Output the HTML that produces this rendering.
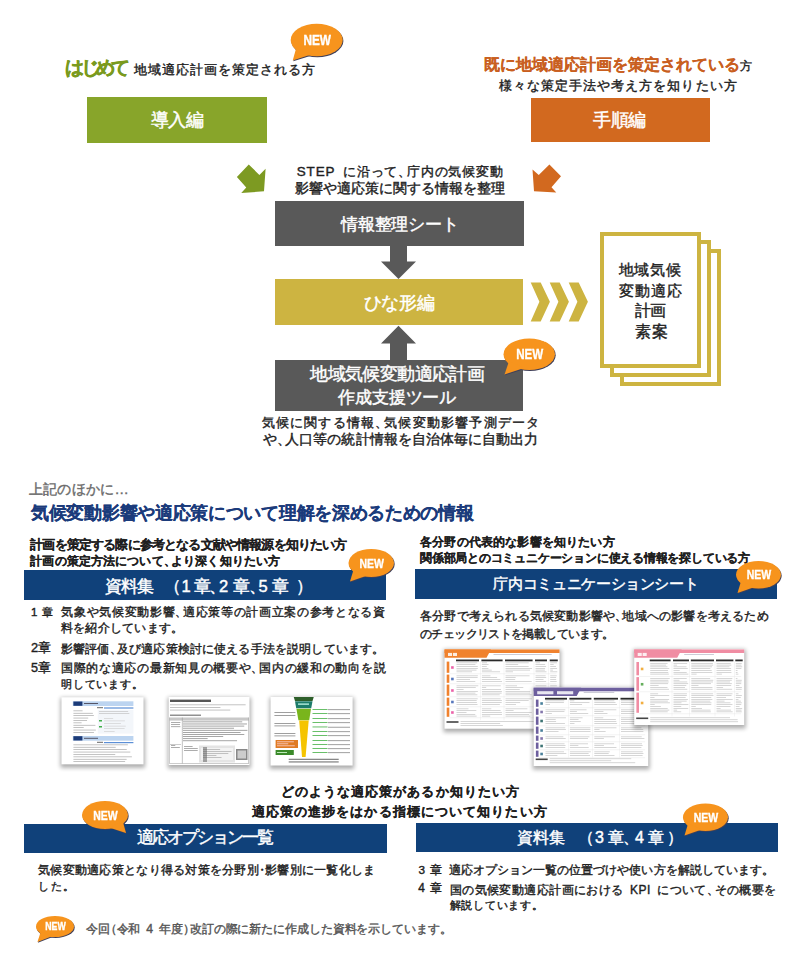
<!DOCTYPE html>
<html><head><meta charset="utf-8"><style>
html,body{margin:0;padding:0;background:#fff;width:800px;height:960px;overflow:hidden}
body{position:relative;font-family:"Liberation Sans",sans-serif}
.t{position:absolute;white-space:nowrap}
.g{position:absolute;white-space:nowrap}
.c{margin-right:-0.4em}
.lt{font-size:1.15em;letter-spacing:0.3px}
.nk{margin:0 -0.25em}
.ol{margin-left:-0.4em}
.cr{margin-right:-0.4em}
.box{position:absolute}
svg{position:absolute;left:0;top:0}
</style></head><body>
<div class="box" style="left:87px;top:97px;width:180px;height:45.5px;background:#88a52a;"></div><div class="box" style="left:531px;top:97.5px;width:179px;height:44.5px;background:#d2691f;"></div><div class="box" style="left:274.5px;top:201px;width:249px;height:45px;background:#595959;"></div><div class="box" style="left:275px;top:279px;width:248px;height:45.6px;background:#cdb441;"></div><div class="box" style="left:275px;top:360px;width:248px;height:50.5px;background:#595959;"></div><div class="box" style="left:23.6px;top:570px;width:362px;height:29.8px;background:#10417a;"></div><div class="box" style="left:414.5px;top:569px;width:362px;height:29.5px;background:#10417a;"></div><div class="box" style="left:23.7px;top:823.5px;width:363.3px;height:29px;background:#10417a;"></div><div class="box" style="left:415.6px;top:823px;width:362.4px;height:28.5px;background:#10417a;"></div><div class="box" style="left:620px;top:249px;width:92.5px;height:128.5px;border:4px solid #cdb441;background:#fff"></div><div class="box" style="left:610px;top:240.2px;width:92.5px;height:128.5px;border:4px solid #cdb441;background:#fff"></div><div class="box" style="left:600.3px;top:231.6px;width:92.5px;height:128.5px;border:4px solid #cdb441;background:#fff"></div><div class="t" id="t0" style="left:65.30px;top:58.85px;font-size:18.8px;line-height:18.8px;color:#7a9a1e;letter-spacing:-3.600px;font-weight:bold;-webkit-text-stroke:0.45px #7a9a1e;">はじめて</div><div class="t" id="t1" style="left:133.70px;top:62.83px;font-size:13.35px;line-height:13.35px;color:#1e1e1e;letter-spacing:1.000px;-webkit-text-stroke:0.4px #1e1e1e;">地域適応計画を策定される方</div><div class="t" id="t2" style="left:483.70px;top:56.78px;font-size:15.94px;line-height:15.94px;color:#c95f1f;letter-spacing:0.000px;font-weight:bold;-webkit-text-stroke:0.15px #c95f1f;">既に地域適応計画を策定されている</div><div class="t" id="t3" style="left:739.50px;top:60.40px;font-size:12.2px;line-height:12.2px;color:#1e1e1e;letter-spacing:0.000px;-webkit-text-stroke:0.4px #1e1e1e;">方</div><div class="t" id="t4" style="left:498.70px;top:79.08px;font-size:13.03px;line-height:13.03px;color:#1e1e1e;letter-spacing:1.062px;-webkit-text-stroke:0.4px #1e1e1e;">様々な策定手法や考え方を知りたい方</div><div class="t" id="t5" style="left:150.95px;top:111.54px;font-size:17.73px;line-height:17.73px;color:#fff;letter-spacing:-0.675px;-webkit-text-stroke:0.44000000000000006px #fff;">導入編</div><div class="t" id="t6" style="left:593.40px;top:111.52px;font-size:17.96px;line-height:17.96px;color:#fff;letter-spacing:-0.550px;-webkit-text-stroke:0.44000000000000006px #fff;">手順編</div><div class="t" id="t7" style="left:296.80px;top:164.78px;font-size:13.44px;line-height:13.44px;color:#1e1e1e;letter-spacing:0.858px;-webkit-text-stroke:0.4px #1e1e1e;"><span class="lt">STEP</span> に沿って<span class="c">、</span>庁内の気候変動</div><div class="t" id="t8" style="left:294.95px;top:182.30px;font-size:13.9px;line-height:13.9px;color:#1e1e1e;letter-spacing:0.019px;-webkit-text-stroke:0.4px #1e1e1e;">影響や適応策に関する情報を整理</div><div class="t" id="t9" style="left:341.20px;top:216.05px;font-size:17.4px;line-height:17.4px;color:#fff;letter-spacing:-0.251px;-webkit-text-stroke:0.44000000000000006px #fff;">情報整理シート</div><div class="t" id="t10" style="left:363.70px;top:294.55px;font-size:17.51px;line-height:17.51px;color:#fff;letter-spacing:-0.333px;-webkit-text-stroke:0.44000000000000006px #fff;">ひな形編</div><div class="t" id="t11" style="left:310.30px;top:365.38px;font-size:18.35px;line-height:18.35px;color:#fff;letter-spacing:-0.600px;-webkit-text-stroke:0.44000000000000006px #fff;">地域気候変動適応計画</div><div class="t" id="t12" style="left:338.45px;top:389.74px;font-size:16.52px;line-height:16.52px;color:#fff;letter-spacing:-0.208px;-webkit-text-stroke:0.44000000000000006px #fff;">作成支援ツール</div><div class="t" id="t13" style="left:261.70px;top:415.80px;font-size:13.4px;line-height:13.4px;color:#1e1e1e;letter-spacing:1.203px;-webkit-text-stroke:0.4px #1e1e1e;">気候に関する情報<span class="c">、</span>気候変動影響予測データ</div><div class="t" id="t14" style="left:262.70px;top:433.03px;font-size:13.94px;line-height:13.94px;color:#1e1e1e;letter-spacing:0.056px;-webkit-text-stroke:0.4px #1e1e1e;">や<span class="c">、</span>人口等の統計情報を自治体毎に自動出力</div><div class="t" id="t15" style="left:618.70px;top:261.56px;font-size:15.18px;line-height:15.18px;color:#1e1e1e;letter-spacing:0.800px;-webkit-text-stroke:0.4px #1e1e1e;">地域気候</div><div class="t" id="t16" style="left:618.70px;top:282.59px;font-size:15.43px;line-height:15.43px;color:#1e1e1e;letter-spacing:1.133px;-webkit-text-stroke:0.4px #1e1e1e;">変動適応</div><div class="t" id="t17" style="left:634.70px;top:303.19px;font-size:15.53px;line-height:15.53px;color:#1e1e1e;letter-spacing:-0.300px;-webkit-text-stroke:0.4px #1e1e1e;">計画</div><div class="t" id="t18" style="left:634.70px;top:323.68px;font-size:15.64px;line-height:15.64px;color:#1e1e1e;letter-spacing:1.400px;-webkit-text-stroke:0.4px #1e1e1e;">素案</div><div class="t" id="t19" style="left:28.70px;top:481.70px;font-size:14.31px;line-height:14.31px;color:#6b6b6b;letter-spacing:0.284px;-webkit-text-stroke:0.4px #6b6b6b;">上記のほかに…</div><div class="t" id="t20" style="left:31.10px;top:504.77px;font-size:17.95px;line-height:17.95px;color:#1b3b7b;letter-spacing:-0.300px;font-weight:bold;-webkit-text-stroke:0.15px #1b3b7b;">気候変動影響や適応策について理解を深めるための情報</div><div class="t" id="t21" style="left:30.30px;top:538.62px;font-size:12.6px;line-height:12.6px;color:#1e1e1e;letter-spacing:-0.832px;font-weight:bold;-webkit-text-stroke:0.15px #1e1e1e;">計画を策定する際に参考となる文献や情報源を知りたい方</div><div class="t" id="t22" style="left:30.30px;top:554.77px;font-size:12.21px;line-height:12.21px;color:#1e1e1e;letter-spacing:0.129px;font-weight:bold;-webkit-text-stroke:0.15px #1e1e1e;">計画の策定方法について<span class="c">、</span>より深く知りたい方</div><div class="t" id="t23" style="left:420.00px;top:536.11px;font-size:11.69px;line-height:11.69px;color:#1e1e1e;letter-spacing:0.173px;font-weight:bold;-webkit-text-stroke:0.15px #1e1e1e;">各分野の代表的な影響を知りたい方</div><div class="t" id="t24" style="left:420.00px;top:552.18px;font-size:12.13px;line-height:12.13px;color:#1e1e1e;letter-spacing:-0.218px;font-weight:bold;-webkit-text-stroke:0.15px #1e1e1e;">関係部局とのコミュニケーションに使える情報を探している方</div><div class="t" id="t25" style="left:493.45px;top:576.35px;font-size:15.31px;line-height:15.31px;color:#fff;letter-spacing:-0.365px;-webkit-text-stroke:0.44000000000000006px #fff;">庁内コミュニケーションシート</div><div class="t" id="t26" style="left:30.95px;top:606.86px;font-size:11.48px;line-height:11.48px;color:#1e1e1e;letter-spacing:-0.438px;-webkit-text-stroke:0.4px #1e1e1e;">1 章</div><div class="t" id="t27" style="left:61.20px;top:606.42px;font-size:12.16px;line-height:12.16px;color:#1e1e1e;letter-spacing:0.670px;-webkit-text-stroke:0.4px #1e1e1e;">気象や気候変動影響<span class="c">、</span>適応策等の計画立案の参考となる資</div><div class="t" id="t28" style="left:60.95px;top:622.71px;font-size:11.84px;line-height:11.84px;color:#1e1e1e;letter-spacing:0.250px;-webkit-text-stroke:0.4px #1e1e1e;">料を紹介しています。</div><div class="t" id="t29" style="left:30.95px;top:642.19px;font-size:12.87px;line-height:12.87px;color:#1e1e1e;letter-spacing:-0.156px;-webkit-text-stroke:0.4px #1e1e1e;">2章</div><div class="t" id="t30" style="left:60.95px;top:642.61px;font-size:12.03px;line-height:12.03px;color:#1e1e1e;letter-spacing:0.156px;-webkit-text-stroke:0.4px #1e1e1e;">影響評価<span class="c">、</span>及び適応策検討に使える手法を説明しています。</div><div class="t" id="t31" style="left:30.95px;top:662.18px;font-size:12.63px;line-height:12.63px;color:#1e1e1e;letter-spacing:-0.031px;-webkit-text-stroke:0.4px #1e1e1e;">5章</div><div class="t" id="t32" style="left:60.95px;top:662.42px;font-size:12.16px;line-height:12.16px;color:#1e1e1e;letter-spacing:0.700px;-webkit-text-stroke:0.4px #1e1e1e;">国際的な適応の最新知見の概要や<span class="c">、</span>国内の緩和の動向を説</div><div class="t" id="t33" style="left:60.95px;top:679.15px;font-size:11.2px;line-height:11.2px;color:#1e1e1e;letter-spacing:0.833px;-webkit-text-stroke:0.4px #1e1e1e;">明しています。</div><div class="t" id="t34" style="left:420.00px;top:610.24px;font-size:12.43px;line-height:12.43px;color:#1e1e1e;letter-spacing:0.198px;-webkit-text-stroke:0.4px #1e1e1e;">各分野で考えられる気候変動影響や<span class="c">、</span>地域への影響を考えるため</div><div class="t" id="t35" style="left:420.00px;top:627.51px;font-size:11.67px;line-height:11.67px;color:#1e1e1e;letter-spacing:-0.618px;-webkit-text-stroke:0.4px #1e1e1e;">のチェックリストを掲載しています。</div><div class="t" id="t36" style="left:280.50px;top:784.82px;font-size:13.36px;line-height:13.36px;color:#1e1e1e;letter-spacing:1.099px;font-weight:bold;-webkit-text-stroke:0.15px #1e1e1e;">どのような適応策があるか知りたい方</div><div class="t" id="t37" style="left:251.70px;top:804.79px;font-size:13.42px;line-height:13.42px;color:#1e1e1e;letter-spacing:1.100px;font-weight:bold;-webkit-text-stroke:0.15px #1e1e1e;">適応策の進捗をはかる指標について知りたい方</div><div class="t" id="t38" style="left:137.40px;top:829.59px;font-size:16.83px;line-height:16.83px;color:#fff;letter-spacing:-2.011px;-webkit-text-stroke:0.44000000000000006px #fff;">適応オプション一覧</div><div class="t" id="t39" style="left:38.20px;top:864.54px;font-size:11.92px;line-height:11.92px;color:#1e1e1e;letter-spacing:0.257px;-webkit-text-stroke:0.4px #1e1e1e;">気候変動適応策となり得る対策を分野別<span class="nk">・</span>影響別に一覧化しま</div><div class="t" id="t40" style="left:38.20px;top:881.34px;font-size:10.72px;line-height:10.72px;color:#1e1e1e;letter-spacing:1.500px;-webkit-text-stroke:0.4px #1e1e1e;">した。</div><div class="t" id="t41" style="left:418.50px;top:863.86px;font-size:11.78px;line-height:11.78px;color:#1e1e1e;letter-spacing:-0.669px;-webkit-text-stroke:0.4px #1e1e1e;">3 章</div><div class="t" id="t42" style="left:449.20px;top:863.65px;font-size:11.7px;line-height:11.7px;color:#1e1e1e;letter-spacing:0.019px;-webkit-text-stroke:0.4px #1e1e1e;">適応オプション一覧の位置づけや使い方を解説しています。</div><div class="t" id="t43" style="left:418.20px;top:883.33px;font-size:11.85px;line-height:11.85px;color:#1e1e1e;letter-spacing:-0.258px;-webkit-text-stroke:0.4px #1e1e1e;">4 章</div><div class="t" id="t44" style="left:449.70px;top:883.75px;font-size:12.0px;line-height:12.0px;color:#1e1e1e;letter-spacing:0.427px;-webkit-text-stroke:0.4px #1e1e1e;">国の気候変動適応計画における <span class="lt">KPI</span> について<span class="c">、</span>その概要を</div><div class="t" id="t45" style="left:449.70px;top:899.86px;font-size:11.28px;line-height:11.28px;color:#1e1e1e;letter-spacing:0.714px;-webkit-text-stroke:0.4px #1e1e1e;">解説しています。</div><div class="t" id="t46" style="left:85.70px;top:923.38px;font-size:12.23px;line-height:12.23px;color:#555;letter-spacing:-0.101px;-webkit-text-stroke:0.4px #555;">今回<span class="ol">（</span>令和 4 年度<span class="cr">）</span>改訂の際に新たに作成した資料を示しています。</div><div class="g" style="left:104.90px;top:577.75px;font-size:16.5px;line-height:16.5px;color:#fff;-webkit-text-stroke:0.44000000000000006px #fff">資</div><div class="g" style="left:121.00px;top:577.75px;font-size:16.5px;line-height:16.5px;color:#fff;-webkit-text-stroke:0.44000000000000006px #fff">料</div><div class="g" style="left:137.40px;top:577.75px;font-size:16.5px;line-height:16.5px;color:#fff;-webkit-text-stroke:0.44000000000000006px #fff">集</div><div class="g" style="left:164.40px;top:577.75px;font-size:16.5px;line-height:16.5px;color:#fff;-webkit-text-stroke:0.44000000000000006px #fff">（</div><div class="g" style="left:181.60px;top:577.75px;font-size:16.5px;line-height:16.5px;color:#fff;-webkit-text-stroke:0.44000000000000006px #fff">1</div><div class="g" style="left:193.75px;top:577.75px;font-size:16.5px;line-height:16.5px;color:#fff;-webkit-text-stroke:0.44000000000000006px #fff">章</div><div class="g" style="left:209.35px;top:577.75px;font-size:16.5px;line-height:16.5px;color:#fff;-webkit-text-stroke:0.44000000000000006px #fff">、</div><div class="g" style="left:219.00px;top:577.75px;font-size:16.5px;line-height:16.5px;color:#fff;-webkit-text-stroke:0.44000000000000006px #fff">2</div><div class="g" style="left:233.10px;top:577.75px;font-size:16.5px;line-height:16.5px;color:#fff;-webkit-text-stroke:0.44000000000000006px #fff">章</div><div class="g" style="left:248.75px;top:577.75px;font-size:16.5px;line-height:16.5px;color:#fff;-webkit-text-stroke:0.44000000000000006px #fff">、</div><div class="g" style="left:258.40px;top:577.75px;font-size:16.5px;line-height:16.5px;color:#fff;-webkit-text-stroke:0.44000000000000006px #fff">5</div><div class="g" style="left:272.45px;top:577.75px;font-size:16.5px;line-height:16.5px;color:#fff;-webkit-text-stroke:0.44000000000000006px #fff">章</div><div class="g" style="left:295.65px;top:577.75px;font-size:16.5px;line-height:16.5px;color:#fff;-webkit-text-stroke:0.44000000000000006px #fff">）</div><div class="g" style="left:517.20px;top:830.42px;font-size:16px;line-height:16px;color:#fff;-webkit-text-stroke:0.44000000000000006px #fff">資</div><div class="g" style="left:533.42px;top:830.42px;font-size:16px;line-height:16px;color:#fff;-webkit-text-stroke:0.44000000000000006px #fff">料</div><div class="g" style="left:549.20px;top:830.42px;font-size:16px;line-height:16px;color:#fff;-webkit-text-stroke:0.44000000000000006px #fff">集</div><div class="g" style="left:578.42px;top:830.42px;font-size:16px;line-height:16px;color:#fff;-webkit-text-stroke:0.44000000000000006px #fff">（</div><div class="g" style="left:595.00px;top:830.42px;font-size:16px;line-height:16px;color:#fff;-webkit-text-stroke:0.44000000000000006px #fff">3</div><div class="g" style="left:607.75px;top:830.42px;font-size:16px;line-height:16px;color:#fff;-webkit-text-stroke:0.44000000000000006px #fff">章</div><div class="g" style="left:622.92px;top:830.42px;font-size:16px;line-height:16px;color:#fff;-webkit-text-stroke:0.44000000000000006px #fff">、</div><div class="g" style="left:634.90px;top:830.42px;font-size:16px;line-height:16px;color:#fff;-webkit-text-stroke:0.44000000000000006px #fff">4</div><div class="g" style="left:647.70px;top:830.42px;font-size:16px;line-height:16px;color:#fff;-webkit-text-stroke:0.44000000000000006px #fff">章</div><div class="g" style="left:667.45px;top:830.42px;font-size:16px;line-height:16px;color:#fff;-webkit-text-stroke:0.44000000000000006px #fff">）</div>
<svg width="800" height="960" viewBox="0 0 800 960" style="font-family:'Liberation Sans',sans-serif"><polygon points="390,246 407,246 407,261.6 416,261.6 398.5,279 381,261.6 390,261.6" fill="#595959"/><polygon points="398.5,325.7 416,343.5 407,343.5 407,360 390,360 390,343.5 381,343.5" fill="#595959"/><polygon points="248.75,164.4 236.9,176.9 246.25,187.5 241.25,193.1 264,191.25 265.6,168.75 259.4,175" fill="#7d9a22"/><polygon points="549.4,164.4 561,176.25 551.5,187.25 556.25,192.5 534,191.25 532.5,169.4 538.75,175" fill="#d2691f"/><polygon points="530.7,282.4 540.7,282.4 549.9000000000001,301.7 540.7,321.4 530.7,321.4 539.4000000000001,301.7" fill="#cdb441"/><polygon points="549.7,282.4 559.7,282.4 568.9000000000001,301.7 559.7,321.4 549.7,321.4 558.4000000000001,301.7" fill="#cdb441"/><polygon points="568.7,282.4 578.7,282.4 587.9000000000001,301.7 578.7,321.4 568.7,321.4 577.4000000000001,301.7" fill="#cdb441"/><defs><filter id="blur2" x="-20%" y="-20%" width="140%" height="140%"><feGaussianBlur stdDeviation="2.2"/></filter><filter id="soft"><feGaussianBlur stdDeviation="0.25"/></filter></defs><g filter="url(#soft)"><rect x="60.5" y="697.8" width="84.5" height="70" fill="#000" opacity="0.32" filter="url(#blur2)"/><rect x="61.50" y="697.30" width="82.00" height="67.00" fill="#fff"/><rect x="72.80" y="701.30" width="60.60" height="4.70" fill="#bcd4f0"/><rect x="73.40" y="701.50" width="9.00" height="4.30" fill="#1c3a78"/><rect x="84.00" y="703.00" width="14.00" height="1.00" fill="#556"/><rect x="104.00" y="707.40" width="29.40" height="1.20" fill="#5b8fd6"/><rect x="97.00" y="707.20" width="6.00" height="1.00" fill="#666"/><rect x="73.40" y="710.50" width="9.17" height="0.70" fill="#aaa"/><rect x="73.40" y="712.90" width="19.46" height="0.70" fill="#aaa"/><rect x="73.40" y="715.30" width="20.45" height="0.70" fill="#aaa"/><rect x="73.40" y="717.70" width="14.81" height="0.70" fill="#aaa"/><rect x="73.40" y="720.10" width="13.64" height="0.70" fill="#aaa"/><rect x="73.40" y="722.50" width="8.22" height="0.70" fill="#aaa"/><rect x="73.40" y="724.90" width="22.01" height="0.70" fill="#aaa"/><rect x="73.40" y="727.30" width="10.31" height="0.70" fill="#aaa"/><rect x="73.40" y="729.70" width="22.42" height="0.70" fill="#aaa"/><rect x="73.40" y="732.10" width="20.55" height="0.70" fill="#aaa"/><rect x="97.80" y="710.00" width="35.60" height="23.60" fill="#f3f6fa"/><rect x="99.00" y="711.00" width="29.14" height="0.60" fill="#bbb"/><rect x="99.00" y="713.20" width="30.38" height="0.60" fill="#bbb"/><rect x="99.00" y="720.00" width="3.00" height="1.50" fill="#3fae49"/><rect x="99.00" y="726.00" width="3.00" height="1.50" fill="#3fae49"/><rect x="104.00" y="718.00" width="9.18" height="0.60" fill="#ccc"/><rect x="104.00" y="720.60" width="20.91" height="0.60" fill="#ccc"/><rect x="104.00" y="723.20" width="16.97" height="0.60" fill="#ccc"/><rect x="104.00" y="725.80" width="21.74" height="0.60" fill="#ccc"/><rect x="104.00" y="728.40" width="20.63" height="0.60" fill="#ccc"/><rect x="104.00" y="731.00" width="10.66" height="0.60" fill="#ccc"/><rect x="72.80" y="736.00" width="60.60" height="4.70" fill="#bcd4f0"/><rect x="73.40" y="736.20" width="9.00" height="4.30" fill="#1c3a78"/><rect x="84.00" y="737.80" width="14.00" height="1.00" fill="#556"/><rect x="104.00" y="742.00" width="29.40" height="1.20" fill="#5b8fd6"/><rect x="97.00" y="741.80" width="6.00" height="1.00" fill="#666"/><rect x="73.40" y="744.50" width="54.48" height="0.70" fill="#aaa"/><rect x="73.40" y="746.90" width="42.31" height="0.70" fill="#aaa"/><rect x="73.40" y="749.30" width="53.34" height="0.70" fill="#aaa"/><rect x="73.40" y="751.70" width="56.91" height="0.70" fill="#aaa"/><rect x="73.40" y="754.10" width="41.84" height="0.70" fill="#aaa"/><rect x="73.40" y="756.50" width="58.48" height="0.70" fill="#aaa"/><rect x="73.40" y="758.90" width="53.23" height="0.70" fill="#aaa"/><rect x="73.40" y="761.30" width="51.72" height="0.70" fill="#aaa"/><rect x="167.75" y="697.5" width="83.2" height="71" fill="#000" opacity="0.32" filter="url(#blur2)"/><rect x="168.75" y="697.00" width="80.70" height="68.00" fill="#fff"/><rect x="170.00" y="699.60" width="41.00" height="2.40" fill="#555"/><rect x="170.00" y="704.50" width="75.64" height="0.70" fill="#aaa"/><rect x="170.00" y="707.10" width="50.42" height="0.70" fill="#aaa"/><rect x="170.00" y="709.70" width="60.27" height="0.70" fill="#aaa"/><rect x="170.00" y="714.60" width="31.00" height="1.20" fill="#777"/><rect x="169.40" y="717.50" width="79.40" height="46.30" fill="#fff"/><rect x="169.40" y="717.50" width="79.40" height="3.10" fill="#c8c8c8"/><rect x="181.90" y="717.50" width="0.60" height="46.00" fill="#999"/><rect x="169.40" y="717.50" width="0.50" height="46.00" fill="#999"/><rect x="248.30" y="717.50" width="0.50" height="46.00" fill="#999"/><rect x="169.40" y="763.30" width="79.40" height="0.50" fill="#999"/><rect x="171.00" y="722.00" width="9.36" height="0.70" fill="#888"/><rect x="171.00" y="724.20" width="8.97" height="0.70" fill="#888"/><rect x="171.00" y="726.40" width="9.39" height="0.70" fill="#888"/><rect x="183.00" y="721.50" width="59.24" height="0.75" fill="#888"/><rect x="183.00" y="723.60" width="63.96" height="0.75" fill="#888"/><rect x="183.00" y="725.70" width="61.25" height="0.75" fill="#888"/><rect x="183.00" y="727.80" width="51.02" height="0.75" fill="#888"/><rect x="183.00" y="729.90" width="64.43" height="0.75" fill="#888"/><rect x="183.00" y="732.00" width="57.58" height="0.75" fill="#888"/><rect x="183.00" y="734.10" width="61.29" height="0.75" fill="#888"/><rect x="183.00" y="736.20" width="40.20" height="0.75" fill="#888"/><rect x="183.00" y="738.30" width="24.64" height="0.75" fill="#888"/><rect x="183.00" y="740.40" width="54.04" height="0.75" fill="#888"/><rect x="170.00" y="744.00" width="11.00" height="0.50" fill="#999"/><rect x="171.00" y="745.00" width="4.26" height="0.70" fill="#888"/><rect x="171.00" y="747.00" width="8.83" height="0.70" fill="#888"/><rect x="184.00" y="746.00" width="8.60" height="0.70" fill="#888"/><rect x="184.00" y="748.00" width="13.76" height="0.70" fill="#888"/><rect x="184.00" y="750.00" width="13.71" height="0.70" fill="#888"/><rect x="199.00" y="745.50" width="36.00" height="17.00" fill="#e4e4e4"/><rect x="201.00" y="748.00" width="32.00" height="12.00" fill="#f3f3f3"/><rect x="203.00" y="749.00" width="17.13" height="0.70" fill="#aaa"/><rect x="203.00" y="751.00" width="28.50" height="0.70" fill="#aaa"/><rect x="203.00" y="753.00" width="25.31" height="0.70" fill="#aaa"/><rect x="203.00" y="755.00" width="13.41" height="0.70" fill="#aaa"/><rect x="203.00" y="757.00" width="18.54" height="0.70" fill="#aaa"/><rect x="203.00" y="747.00" width="4.00" height="15.00" fill="#555" opacity="0.5"/><rect x="236.00" y="749.00" width="11.50" height="11.00" fill="#888"/><rect x="237.50" y="750.50" width="8.50" height="8.00" fill="#ccc"/><rect x="269.6" y="697.5" width="84.5" height="71.5" fill="#000" opacity="0.32" filter="url(#blur2)"/><rect x="270.60" y="697.00" width="82.00" height="68.50" fill="#fff"/><polygon points="293.75,697 313.75,697 312.5,701 295,701" fill="#2e5e2a"/><polygon points="295,701.3 312.5,701.3 311.2,708.3 296.2,708.3" fill="#1f7c6a"/><polygon points="296.4,708.7 311,708.7 309.2,720.3 298.4,720.3" fill="#79b51f"/><polygon points="299.2,720.6 308.7,720.6 305.6,757 302,757" fill="#f5c400"/><rect x="298.00" y="703.50" width="11.00" height="1.20" fill="#cfe"/><rect x="274.40" y="712.00" width="21.00" height="0.80" fill="#888"/><rect x="274.40" y="715.00" width="21.00" height="0.80" fill="#888"/><rect x="274.40" y="723.00" width="21.00" height="0.80" fill="#888"/><rect x="274.40" y="725.50" width="21.00" height="0.80" fill="#888"/><rect x="274.40" y="733.00" width="21.00" height="0.80" fill="#888"/><rect x="274.40" y="735.50" width="21.00" height="0.80" fill="#888"/><rect x="275.60" y="740.00" width="22.40" height="8.00" fill="#e07a20"/><rect x="277.00" y="741.50" width="16.90" height="0.70" fill="#fde"/><rect x="277.00" y="743.50" width="11.27" height="0.70" fill="#fde"/><rect x="277.00" y="745.50" width="17.76" height="0.70" fill="#fde"/><rect x="275.60" y="750.00" width="18.20" height="5.00" fill="#3b8a2a"/><rect x="277.00" y="752.00" width="10.00" height="0.80" fill="#dfd"/><rect x="312.50" y="709.00" width="15.00" height="0.90" fill="#58b858"/><rect x="328.00" y="709.30" width="22.00" height="0.80" fill="#888"/><rect x="312.50" y="713.00" width="15.00" height="0.90" fill="#58b858"/><rect x="328.00" y="713.30" width="22.00" height="0.80" fill="#888"/><rect x="312.50" y="718.00" width="15.00" height="0.90" fill="#58b858"/><rect x="328.00" y="718.30" width="22.00" height="0.80" fill="#888"/><rect x="312.50" y="722.00" width="15.00" height="0.90" fill="#58b858"/><rect x="328.00" y="722.30" width="22.00" height="0.80" fill="#888"/><rect x="312.50" y="726.50" width="15.00" height="0.90" fill="#58b858"/><rect x="328.00" y="726.80" width="22.00" height="0.80" fill="#888"/><rect x="312.50" y="731.00" width="15.00" height="0.90" fill="#58b858"/><rect x="328.00" y="731.30" width="22.00" height="0.80" fill="#888"/><rect x="312.50" y="735.00" width="15.00" height="0.90" fill="#58b858"/><rect x="328.00" y="735.30" width="22.00" height="0.80" fill="#888"/><rect x="312.50" y="740.00" width="15.00" height="0.90" fill="#58b858"/><rect x="328.00" y="740.30" width="22.00" height="0.80" fill="#888"/><rect x="312.50" y="744.00" width="15.00" height="0.90" fill="#58b858"/><rect x="328.00" y="744.30" width="22.00" height="0.80" fill="#888"/><rect x="312.50" y="748.00" width="15.00" height="0.90" fill="#58b858"/><rect x="328.00" y="748.30" width="22.00" height="0.80" fill="#888"/><rect x="312.50" y="752.00" width="15.00" height="0.90" fill="#58b858"/><rect x="328.00" y="752.30" width="22.00" height="0.80" fill="#888"/><rect x="288.70" y="758.80" width="50.00" height="0.90" fill="#555"/><rect x="288.70" y="761.50" width="50.00" height="0.90" fill="#555"/><rect x="443.5" y="649.5" width="117.5" height="82.7" fill="#000" opacity="0.32" filter="url(#blur2)"/><rect x="444.50" y="649.00" width="115.00" height="79.70" fill="#fff"/><rect x="444.50" y="649.40" width="115.00" height="3.60" fill="#f0822e"/><polygon points="444.5,649.4 491.0,649.4 486.5,657.7 444.5,657.7" fill="#f0822e"/><rect x="448.00" y="652.90" width="4.05" height="3.10" fill="#fff" opacity="0.85"/><rect x="452.95" y="652.90" width="4.05" height="3.10" fill="#fff" opacity="0.85"/><rect x="493.50" y="654.00" width="58.17" height="0.60" fill="#aab"/><rect x="456.00" y="659.50" width="23.00" height="1.80" fill="#2a2a2a"/><rect x="481.40" y="659.50" width="21.20" height="1.80" fill="#2a2a2a"/><rect x="505.00" y="659.50" width="27.60" height="1.80" fill="#2a2a2a"/><rect x="535.00" y="659.50" width="12.00" height="1.80" fill="#2a2a2a"/><rect x="549.70" y="659.50" width="8.10" height="1.80" fill="#2a2a2a"/><rect x="446.70" y="661.60" width="2.60" height="11.20" fill="#f0822e"/><rect x="451.10" y="666.20" width="2.60" height="2.60" fill="#e8479a" opacity="0.85"/><rect x="456.50" y="662.60" width="20.74" height="0.55" fill="#b4b4b4"/><rect x="456.50" y="664.40" width="18.88" height="0.55" fill="#b4b4b4"/><rect x="456.50" y="666.20" width="21.27" height="0.55" fill="#b4b4b4"/><rect x="456.50" y="668.00" width="21.33" height="0.55" fill="#b4b4b4"/><rect x="456.50" y="669.80" width="20.02" height="0.55" fill="#b4b4b4"/><rect x="456.50" y="671.60" width="15.56" height="0.55" fill="#b4b4b4"/><rect x="481.90" y="662.60" width="5.13" height="0.55" fill="#b4b4b4"/><rect x="481.90" y="664.40" width="6.66" height="0.55" fill="#b4b4b4"/><rect x="481.90" y="666.20" width="4.89" height="0.55" fill="#b4b4b4"/><rect x="481.90" y="668.00" width="6.48" height="0.55" fill="#b4b4b4"/><rect x="481.90" y="669.80" width="9.92" height="0.55" fill="#b4b4b4"/><rect x="481.90" y="671.60" width="18.17" height="0.55" fill="#b4b4b4"/><rect x="505.50" y="662.60" width="23.20" height="0.55" fill="#b4b4b4"/><rect x="505.50" y="664.40" width="12.71" height="0.55" fill="#b4b4b4"/><rect x="505.50" y="666.20" width="23.10" height="0.55" fill="#b4b4b4"/><rect x="505.50" y="668.00" width="26.57" height="0.55" fill="#b4b4b4"/><rect x="505.50" y="669.80" width="24.54" height="0.55" fill="#b4b4b4"/><rect x="505.50" y="671.60" width="7.49" height="0.55" fill="#b4b4b4"/><rect x="535.50" y="662.60" width="4.53" height="0.55" fill="#b4b4b4"/><rect x="535.50" y="664.40" width="9.62" height="0.55" fill="#b4b4b4"/><rect x="535.50" y="666.20" width="10.57" height="0.55" fill="#b4b4b4"/><rect x="535.50" y="668.00" width="9.59" height="0.55" fill="#b4b4b4"/><rect x="535.50" y="669.80" width="9.39" height="0.55" fill="#b4b4b4"/><rect x="535.50" y="671.60" width="10.96" height="0.55" fill="#b4b4b4"/><rect x="550.20" y="662.60" width="6.78" height="0.55" fill="#b4b4b4"/><rect x="550.20" y="664.40" width="3.50" height="0.55" fill="#b4b4b4"/><rect x="550.20" y="666.20" width="5.80" height="0.55" fill="#b4b4b4"/><rect x="550.20" y="668.00" width="6.86" height="0.55" fill="#b4b4b4"/><rect x="550.20" y="669.80" width="2.69" height="0.55" fill="#b4b4b4"/><rect x="550.20" y="671.60" width="7.08" height="0.55" fill="#b4b4b4"/><rect x="449.50" y="673.70" width="107.00" height="0.40" fill="#e2e2e2"/><rect x="446.70" y="674.60" width="2.60" height="8.20" fill="#f0822e"/><rect x="451.10" y="677.70" width="2.60" height="2.60" fill="#3a5fb0" opacity="0.85"/><rect x="456.50" y="675.60" width="21.36" height="0.55" fill="#b4b4b4"/><rect x="456.50" y="677.40" width="21.14" height="0.55" fill="#b4b4b4"/><rect x="456.50" y="679.20" width="13.51" height="0.55" fill="#b4b4b4"/><rect x="456.50" y="681.00" width="18.80" height="0.55" fill="#b4b4b4"/><rect x="481.90" y="675.60" width="8.56" height="0.55" fill="#b4b4b4"/><rect x="481.90" y="677.40" width="15.23" height="0.55" fill="#b4b4b4"/><rect x="481.90" y="679.20" width="18.53" height="0.55" fill="#b4b4b4"/><rect x="481.90" y="681.00" width="20.16" height="0.55" fill="#b4b4b4"/><rect x="505.50" y="675.60" width="24.06" height="0.55" fill="#b4b4b4"/><rect x="505.50" y="677.40" width="10.15" height="0.55" fill="#b4b4b4"/><rect x="505.50" y="679.20" width="9.67" height="0.55" fill="#b4b4b4"/><rect x="505.50" y="681.00" width="26.20" height="0.55" fill="#b4b4b4"/><rect x="535.50" y="675.60" width="10.14" height="0.55" fill="#b4b4b4"/><rect x="535.50" y="677.40" width="10.67" height="0.55" fill="#b4b4b4"/><rect x="535.50" y="679.20" width="8.01" height="0.55" fill="#b4b4b4"/><rect x="535.50" y="681.00" width="10.64" height="0.55" fill="#b4b4b4"/><rect x="550.20" y="675.60" width="6.54" height="0.55" fill="#b4b4b4"/><rect x="550.20" y="677.40" width="5.90" height="0.55" fill="#b4b4b4"/><rect x="550.20" y="679.20" width="5.97" height="0.55" fill="#b4b4b4"/><rect x="550.20" y="681.00" width="6.46" height="0.55" fill="#b4b4b4"/><rect x="449.50" y="683.70" width="107.00" height="0.40" fill="#e2e2e2"/><rect x="446.70" y="684.60" width="2.60" height="11.20" fill="#f0822e"/><rect x="451.10" y="689.20" width="2.60" height="2.60" fill="#e8479a" opacity="0.85"/><rect x="456.50" y="685.60" width="21.82" height="0.55" fill="#b4b4b4"/><rect x="456.50" y="687.40" width="19.26" height="0.55" fill="#b4b4b4"/><rect x="456.50" y="689.20" width="7.06" height="0.55" fill="#b4b4b4"/><rect x="456.50" y="691.00" width="21.36" height="0.55" fill="#b4b4b4"/><rect x="456.50" y="692.80" width="18.95" height="0.55" fill="#b4b4b4"/><rect x="456.50" y="694.60" width="20.87" height="0.55" fill="#b4b4b4"/><rect x="481.90" y="685.60" width="18.83" height="0.55" fill="#b4b4b4"/><rect x="481.90" y="687.40" width="4.27" height="0.55" fill="#b4b4b4"/><rect x="481.90" y="689.20" width="19.14" height="0.55" fill="#b4b4b4"/><rect x="481.90" y="691.00" width="20.00" height="0.55" fill="#b4b4b4"/><rect x="481.90" y="692.80" width="19.81" height="0.55" fill="#b4b4b4"/><rect x="481.90" y="694.60" width="17.81" height="0.55" fill="#b4b4b4"/><rect x="505.50" y="685.60" width="11.55" height="0.55" fill="#b4b4b4"/><rect x="505.50" y="687.40" width="17.80" height="0.55" fill="#b4b4b4"/><rect x="505.50" y="689.20" width="14.24" height="0.55" fill="#b4b4b4"/><rect x="505.50" y="691.00" width="24.69" height="0.55" fill="#b4b4b4"/><rect x="505.50" y="692.80" width="24.44" height="0.55" fill="#b4b4b4"/><rect x="505.50" y="694.60" width="26.22" height="0.55" fill="#b4b4b4"/><rect x="535.50" y="685.60" width="10.86" height="0.55" fill="#b4b4b4"/><rect x="535.50" y="687.40" width="10.23" height="0.55" fill="#b4b4b4"/><rect x="535.50" y="689.20" width="9.38" height="0.55" fill="#b4b4b4"/><rect x="535.50" y="691.00" width="9.65" height="0.55" fill="#b4b4b4"/><rect x="535.50" y="692.80" width="9.23" height="0.55" fill="#b4b4b4"/><rect x="535.50" y="694.60" width="6.37" height="0.55" fill="#b4b4b4"/><rect x="550.20" y="685.60" width="6.63" height="0.55" fill="#b4b4b4"/><rect x="550.20" y="687.40" width="4.36" height="0.55" fill="#b4b4b4"/><rect x="550.20" y="689.20" width="6.87" height="0.55" fill="#b4b4b4"/><rect x="550.20" y="691.00" width="4.60" height="0.55" fill="#b4b4b4"/><rect x="550.20" y="692.80" width="2.99" height="0.55" fill="#b4b4b4"/><rect x="550.20" y="694.60" width="6.58" height="0.55" fill="#b4b4b4"/><rect x="449.50" y="696.70" width="107.00" height="0.40" fill="#e2e2e2"/><rect x="446.70" y="697.60" width="2.60" height="8.20" fill="#f0822e"/><rect x="451.10" y="700.70" width="2.60" height="2.60" fill="#3a5fb0" opacity="0.85"/><rect x="456.50" y="698.60" width="21.21" height="0.55" fill="#b4b4b4"/><rect x="456.50" y="700.40" width="20.16" height="0.55" fill="#b4b4b4"/><rect x="456.50" y="702.20" width="20.37" height="0.55" fill="#b4b4b4"/><rect x="456.50" y="704.00" width="20.99" height="0.55" fill="#b4b4b4"/><rect x="481.90" y="698.60" width="18.79" height="0.55" fill="#b4b4b4"/><rect x="481.90" y="700.40" width="20.02" height="0.55" fill="#b4b4b4"/><rect x="481.90" y="702.20" width="19.83" height="0.55" fill="#b4b4b4"/><rect x="481.90" y="704.00" width="17.96" height="0.55" fill="#b4b4b4"/><rect x="505.50" y="698.60" width="26.37" height="0.55" fill="#b4b4b4"/><rect x="505.50" y="700.40" width="23.16" height="0.55" fill="#b4b4b4"/><rect x="505.50" y="702.20" width="14.73" height="0.55" fill="#b4b4b4"/><rect x="505.50" y="704.00" width="10.44" height="0.55" fill="#b4b4b4"/><rect x="535.50" y="698.60" width="8.09" height="0.55" fill="#b4b4b4"/><rect x="535.50" y="700.40" width="10.83" height="0.55" fill="#b4b4b4"/><rect x="535.50" y="702.20" width="8.50" height="0.55" fill="#b4b4b4"/><rect x="535.50" y="704.00" width="9.59" height="0.55" fill="#b4b4b4"/><rect x="550.20" y="698.60" width="7.07" height="0.55" fill="#b4b4b4"/><rect x="550.20" y="700.40" width="6.83" height="0.55" fill="#b4b4b4"/><rect x="550.20" y="702.20" width="6.55" height="0.55" fill="#b4b4b4"/><rect x="550.20" y="704.00" width="6.92" height="0.55" fill="#b4b4b4"/><rect x="449.50" y="706.70" width="107.00" height="0.40" fill="#e2e2e2"/><rect x="446.70" y="707.60" width="2.60" height="9.20" fill="#f0822e"/><rect x="451.10" y="711.20" width="2.60" height="2.60" fill="#e8479a" opacity="0.85"/><rect x="456.50" y="708.60" width="11.99" height="0.55" fill="#b4b4b4"/><rect x="456.50" y="710.40" width="19.82" height="0.55" fill="#b4b4b4"/><rect x="456.50" y="712.20" width="10.01" height="0.55" fill="#b4b4b4"/><rect x="456.50" y="714.00" width="18.76" height="0.55" fill="#b4b4b4"/><rect x="456.50" y="715.80" width="20.15" height="0.55" fill="#b4b4b4"/><rect x="481.90" y="708.60" width="9.40" height="0.55" fill="#b4b4b4"/><rect x="481.90" y="710.40" width="18.72" height="0.55" fill="#b4b4b4"/><rect x="481.90" y="712.20" width="19.96" height="0.55" fill="#b4b4b4"/><rect x="481.90" y="714.00" width="20.11" height="0.55" fill="#b4b4b4"/><rect x="481.90" y="715.80" width="8.33" height="0.55" fill="#b4b4b4"/><rect x="505.50" y="708.60" width="21.90" height="0.55" fill="#b4b4b4"/><rect x="505.50" y="710.40" width="8.08" height="0.55" fill="#b4b4b4"/><rect x="505.50" y="712.20" width="26.25" height="0.55" fill="#b4b4b4"/><rect x="505.50" y="714.00" width="23.64" height="0.55" fill="#b4b4b4"/><rect x="505.50" y="715.80" width="24.88" height="0.55" fill="#b4b4b4"/><rect x="535.50" y="708.60" width="10.51" height="0.55" fill="#b4b4b4"/><rect x="535.50" y="710.40" width="2.71" height="0.55" fill="#b4b4b4"/><rect x="535.50" y="712.20" width="10.05" height="0.55" fill="#b4b4b4"/><rect x="535.50" y="714.00" width="10.46" height="0.55" fill="#b4b4b4"/><rect x="535.50" y="715.80" width="10.67" height="0.55" fill="#b4b4b4"/><rect x="550.20" y="708.60" width="6.28" height="0.55" fill="#b4b4b4"/><rect x="550.20" y="710.40" width="6.32" height="0.55" fill="#b4b4b4"/><rect x="550.20" y="712.20" width="6.40" height="0.55" fill="#b4b4b4"/><rect x="550.20" y="714.00" width="7.02" height="0.55" fill="#b4b4b4"/><rect x="550.20" y="715.80" width="2.15" height="0.55" fill="#b4b4b4"/><rect x="449.50" y="717.70" width="107.00" height="0.40" fill="#e2e2e2"/><rect x="480.20" y="661.50" width="0.40" height="58.70" fill="#e6e6e6"/><rect x="503.80" y="661.50" width="0.40" height="58.70" fill="#e6e6e6"/><rect x="533.80" y="661.50" width="0.40" height="58.70" fill="#e6e6e6"/><rect x="548.50" y="661.50" width="0.40" height="58.70" fill="#e6e6e6"/><rect x="446.50" y="721.20" width="12.00" height="1.60" fill="#444"/><rect x="460.50" y="721.20" width="85.03" height="0.60" fill="#bbb"/><rect x="460.50" y="723.20" width="39.65" height="0.60" fill="#bbb"/><rect x="460.50" y="725.20" width="42.36" height="0.60" fill="#bbb"/><rect x="532.7" y="687.8" width="117.0" height="81.7" fill="#000" opacity="0.32" filter="url(#blur2)"/><rect x="533.70" y="687.30" width="114.50" height="78.70" fill="#fff"/><rect x="533.70" y="687.70" width="114.50" height="3.60" fill="#6d5e9e"/><polygon points="533.7,687.6999999999999 581.2,687.6999999999999 576.7,696.0 533.7,696.0" fill="#6d5e9e"/><rect x="537.20" y="691.20" width="16.20" height="3.10" fill="#fff" opacity="0.85"/><rect x="557.00" y="691.20" width="16.20" height="3.10" fill="#fff" opacity="0.85"/><rect x="583.70" y="692.30" width="30.55" height="0.60" fill="#aab"/><rect x="545.00" y="697.80" width="22.00" height="1.80" fill="#2a2a2a"/><rect x="569.40" y="697.80" width="22.00" height="1.80" fill="#2a2a2a"/><rect x="593.80" y="697.80" width="24.20" height="1.80" fill="#2a2a2a"/><rect x="620.50" y="697.80" width="24.50" height="1.80" fill="#2a2a2a"/><rect x="535.90" y="699.60" width="2.60" height="7.20" fill="#6d5e9e"/><rect x="540.30" y="702.20" width="2.60" height="2.60" fill="#2a6a8a" opacity="0.85"/><rect x="545.50" y="700.60" width="18.76" height="0.55" fill="#b4b4b4"/><rect x="545.50" y="702.40" width="18.41" height="0.55" fill="#b4b4b4"/><rect x="545.50" y="704.20" width="4.51" height="0.55" fill="#b4b4b4"/><rect x="569.90" y="700.60" width="4.46" height="0.55" fill="#b4b4b4"/><rect x="569.90" y="702.40" width="19.59" height="0.55" fill="#b4b4b4"/><rect x="569.90" y="704.20" width="12.18" height="0.55" fill="#b4b4b4"/><rect x="594.30" y="700.60" width="20.09" height="0.55" fill="#b4b4b4"/><rect x="594.30" y="702.40" width="21.22" height="0.55" fill="#b4b4b4"/><rect x="594.30" y="704.20" width="22.62" height="0.55" fill="#b4b4b4"/><rect x="621.00" y="700.60" width="21.76" height="0.55" fill="#b4b4b4"/><rect x="621.00" y="702.40" width="23.44" height="0.55" fill="#b4b4b4"/><rect x="621.00" y="704.20" width="20.35" height="0.55" fill="#b4b4b4"/><rect x="538.70" y="707.70" width="106.50" height="0.40" fill="#e2e2e2"/><rect x="535.90" y="708.60" width="2.60" height="6.20" fill="#6d5e9e"/><rect x="540.30" y="710.70" width="2.60" height="2.60" fill="#6d5e9e" opacity="0.85"/><rect x="545.50" y="709.60" width="19.85" height="0.55" fill="#b4b4b4"/><rect x="545.50" y="711.40" width="18.94" height="0.55" fill="#b4b4b4"/><rect x="545.50" y="713.20" width="6.38" height="0.55" fill="#b4b4b4"/><rect x="569.90" y="709.60" width="16.65" height="0.55" fill="#b4b4b4"/><rect x="569.90" y="711.40" width="6.94" height="0.55" fill="#b4b4b4"/><rect x="569.90" y="713.20" width="18.33" height="0.55" fill="#b4b4b4"/><rect x="594.30" y="709.60" width="22.05" height="0.55" fill="#b4b4b4"/><rect x="594.30" y="711.40" width="9.14" height="0.55" fill="#b4b4b4"/><rect x="594.30" y="713.20" width="13.17" height="0.55" fill="#b4b4b4"/><rect x="621.00" y="709.60" width="13.08" height="0.55" fill="#b4b4b4"/><rect x="621.00" y="711.40" width="22.78" height="0.55" fill="#b4b4b4"/><rect x="621.00" y="713.20" width="21.90" height="0.55" fill="#b4b4b4"/><rect x="538.70" y="715.70" width="106.50" height="0.40" fill="#e2e2e2"/><rect x="535.90" y="716.60" width="2.60" height="8.20" fill="#6d5e9e"/><rect x="540.30" y="719.70" width="2.60" height="2.60" fill="#1a5a5a" opacity="0.85"/><rect x="545.50" y="717.60" width="20.42" height="0.55" fill="#b4b4b4"/><rect x="545.50" y="719.40" width="10.19" height="0.55" fill="#b4b4b4"/><rect x="545.50" y="721.20" width="10.61" height="0.55" fill="#b4b4b4"/><rect x="545.50" y="723.00" width="19.43" height="0.55" fill="#b4b4b4"/><rect x="569.90" y="717.60" width="12.68" height="0.55" fill="#b4b4b4"/><rect x="569.90" y="719.40" width="8.64" height="0.55" fill="#b4b4b4"/><rect x="569.90" y="721.20" width="10.91" height="0.55" fill="#b4b4b4"/><rect x="569.90" y="723.00" width="4.58" height="0.55" fill="#b4b4b4"/><rect x="594.30" y="717.60" width="8.96" height="0.55" fill="#b4b4b4"/><rect x="594.30" y="719.40" width="21.56" height="0.55" fill="#b4b4b4"/><rect x="594.30" y="721.20" width="22.01" height="0.55" fill="#b4b4b4"/><rect x="594.30" y="723.00" width="22.78" height="0.55" fill="#b4b4b4"/><rect x="621.00" y="717.60" width="21.12" height="0.55" fill="#b4b4b4"/><rect x="621.00" y="719.40" width="20.50" height="0.55" fill="#b4b4b4"/><rect x="621.00" y="721.20" width="22.24" height="0.55" fill="#b4b4b4"/><rect x="621.00" y="723.00" width="20.40" height="0.55" fill="#b4b4b4"/><rect x="538.70" y="725.70" width="106.50" height="0.40" fill="#e2e2e2"/><rect x="535.90" y="726.60" width="2.60" height="7.20" fill="#6d5e9e"/><rect x="540.30" y="729.20" width="2.60" height="2.60" fill="#2a6a8a" opacity="0.85"/><rect x="545.50" y="727.60" width="19.83" height="0.55" fill="#b4b4b4"/><rect x="545.50" y="729.40" width="20.41" height="0.55" fill="#b4b4b4"/><rect x="545.50" y="731.20" width="13.00" height="0.55" fill="#b4b4b4"/><rect x="569.90" y="727.60" width="20.48" height="0.55" fill="#b4b4b4"/><rect x="569.90" y="729.40" width="20.45" height="0.55" fill="#b4b4b4"/><rect x="569.90" y="731.20" width="20.66" height="0.55" fill="#b4b4b4"/><rect x="594.30" y="727.60" width="22.13" height="0.55" fill="#b4b4b4"/><rect x="594.30" y="729.40" width="5.22" height="0.55" fill="#b4b4b4"/><rect x="594.30" y="731.20" width="11.33" height="0.55" fill="#b4b4b4"/><rect x="621.00" y="727.60" width="20.41" height="0.55" fill="#b4b4b4"/><rect x="621.00" y="729.40" width="22.19" height="0.55" fill="#b4b4b4"/><rect x="621.00" y="731.20" width="22.37" height="0.55" fill="#b4b4b4"/><rect x="538.70" y="734.70" width="106.50" height="0.40" fill="#e2e2e2"/><rect x="535.90" y="735.60" width="2.60" height="5.20" fill="#6d5e9e"/><rect x="540.30" y="737.20" width="2.60" height="2.60" fill="#6d5e9e" opacity="0.85"/><rect x="545.50" y="736.60" width="17.86" height="0.55" fill="#b4b4b4"/><rect x="545.50" y="738.40" width="20.21" height="0.55" fill="#b4b4b4"/><rect x="569.90" y="736.60" width="19.54" height="0.55" fill="#b4b4b4"/><rect x="569.90" y="738.40" width="18.06" height="0.55" fill="#b4b4b4"/><rect x="594.30" y="736.60" width="20.60" height="0.55" fill="#b4b4b4"/><rect x="594.30" y="738.40" width="9.57" height="0.55" fill="#b4b4b4"/><rect x="621.00" y="736.60" width="20.70" height="0.55" fill="#b4b4b4"/><rect x="621.00" y="738.40" width="23.41" height="0.55" fill="#b4b4b4"/><rect x="538.70" y="741.70" width="106.50" height="0.40" fill="#e2e2e2"/><rect x="535.90" y="742.60" width="2.60" height="6.20" fill="#6d5e9e"/><rect x="540.30" y="744.70" width="2.60" height="2.60" fill="#1a5a5a" opacity="0.85"/><rect x="545.50" y="743.60" width="19.06" height="0.55" fill="#b4b4b4"/><rect x="545.50" y="745.40" width="20.00" height="0.55" fill="#b4b4b4"/><rect x="545.50" y="747.20" width="19.79" height="0.55" fill="#b4b4b4"/><rect x="569.90" y="743.60" width="18.09" height="0.55" fill="#b4b4b4"/><rect x="569.90" y="745.40" width="8.47" height="0.55" fill="#b4b4b4"/><rect x="569.90" y="747.20" width="18.81" height="0.55" fill="#b4b4b4"/><rect x="594.30" y="743.60" width="19.76" height="0.55" fill="#b4b4b4"/><rect x="594.30" y="745.40" width="9.63" height="0.55" fill="#b4b4b4"/><rect x="594.30" y="747.20" width="22.13" height="0.55" fill="#b4b4b4"/><rect x="621.00" y="743.60" width="21.00" height="0.55" fill="#b4b4b4"/><rect x="621.00" y="745.40" width="21.61" height="0.55" fill="#b4b4b4"/><rect x="621.00" y="747.20" width="20.39" height="0.55" fill="#b4b4b4"/><rect x="538.70" y="749.70" width="106.50" height="0.40" fill="#e2e2e2"/><rect x="535.90" y="750.60" width="2.60" height="6.20" fill="#6d5e9e"/><rect x="540.30" y="752.70" width="2.60" height="2.60" fill="#2a6a8a" opacity="0.85"/><rect x="545.50" y="751.60" width="18.48" height="0.55" fill="#b4b4b4"/><rect x="545.50" y="753.40" width="20.80" height="0.55" fill="#b4b4b4"/><rect x="545.50" y="755.20" width="11.91" height="0.55" fill="#b4b4b4"/><rect x="569.90" y="751.60" width="20.90" height="0.55" fill="#b4b4b4"/><rect x="569.90" y="753.40" width="18.70" height="0.55" fill="#b4b4b4"/><rect x="569.90" y="755.20" width="20.09" height="0.55" fill="#b4b4b4"/><rect x="594.30" y="751.60" width="15.43" height="0.55" fill="#b4b4b4"/><rect x="594.30" y="753.40" width="14.37" height="0.55" fill="#b4b4b4"/><rect x="594.30" y="755.20" width="20.18" height="0.55" fill="#b4b4b4"/><rect x="621.00" y="751.60" width="21.77" height="0.55" fill="#b4b4b4"/><rect x="621.00" y="753.40" width="22.45" height="0.55" fill="#b4b4b4"/><rect x="621.00" y="755.20" width="21.58" height="0.55" fill="#b4b4b4"/><rect x="538.70" y="757.70" width="106.50" height="0.40" fill="#e2e2e2"/><rect x="568.20" y="699.80" width="0.40" height="57.70" fill="#e6e6e6"/><rect x="592.60" y="699.80" width="0.40" height="57.70" fill="#e6e6e6"/><rect x="619.30" y="699.80" width="0.40" height="57.70" fill="#e6e6e6"/><rect x="535.70" y="758.50" width="12.00" height="1.60" fill="#444"/><rect x="549.70" y="758.50" width="81.53" height="0.60" fill="#bbb"/><rect x="549.70" y="760.50" width="61.52" height="0.60" fill="#bbb"/><rect x="549.70" y="762.50" width="85.50" height="0.60" fill="#bbb"/><rect x="633.2" y="649.5" width="112.5" height="79" fill="#000" opacity="0.32" filter="url(#blur2)"/><rect x="634.20" y="649.00" width="110.00" height="76.00" fill="#fff"/><rect x="634.20" y="649.40" width="110.00" height="3.60" fill="#f08da3"/><polygon points="634.2,649.4 681.7,649.4 677.2,657.7 634.2,657.7" fill="#f08da3"/><rect x="637.70" y="652.90" width="4.05" height="3.10" fill="#fff" opacity="0.85"/><rect x="642.65" y="652.90" width="4.05" height="3.10" fill="#fff" opacity="0.85"/><rect x="684.20" y="654.00" width="29.74" height="0.60" fill="#aab"/><rect x="649.70" y="659.50" width="20.90" height="1.80" fill="#2a2a2a"/><rect x="673.00" y="659.50" width="16.00" height="1.80" fill="#2a2a2a"/><rect x="690.80" y="659.50" width="23.20" height="1.80" fill="#2a2a2a"/><rect x="716.00" y="659.50" width="17.40" height="1.80" fill="#2a2a2a"/><rect x="735.30" y="659.50" width="7.40" height="1.80" fill="#2a2a2a"/><rect x="636.40" y="662.00" width="2.60" height="13.30" fill="#f08da3"/><rect x="640.80" y="667.65" width="2.60" height="2.60" fill="#f0a020" opacity="0.85"/><rect x="650.20" y="663.00" width="17.36" height="0.55" fill="#b4b4b4"/><rect x="650.20" y="664.80" width="15.93" height="0.55" fill="#b4b4b4"/><rect x="650.20" y="666.60" width="17.27" height="0.55" fill="#b4b4b4"/><rect x="650.20" y="668.40" width="19.04" height="0.55" fill="#b4b4b4"/><rect x="650.20" y="670.20" width="17.78" height="0.55" fill="#b4b4b4"/><rect x="650.20" y="672.00" width="18.09" height="0.55" fill="#b4b4b4"/><rect x="650.20" y="673.80" width="18.67" height="0.55" fill="#b4b4b4"/><rect x="673.50" y="663.00" width="13.71" height="0.55" fill="#b4b4b4"/><rect x="673.50" y="664.80" width="3.58" height="0.55" fill="#b4b4b4"/><rect x="673.50" y="666.60" width="13.02" height="0.55" fill="#b4b4b4"/><rect x="673.50" y="668.40" width="14.23" height="0.55" fill="#b4b4b4"/><rect x="673.50" y="670.20" width="6.19" height="0.55" fill="#b4b4b4"/><rect x="673.50" y="672.00" width="13.18" height="0.55" fill="#b4b4b4"/><rect x="673.50" y="673.80" width="14.90" height="0.55" fill="#b4b4b4"/><rect x="691.30" y="663.00" width="21.57" height="0.55" fill="#b4b4b4"/><rect x="691.30" y="664.80" width="21.91" height="0.55" fill="#b4b4b4"/><rect x="691.30" y="666.60" width="20.70" height="0.55" fill="#b4b4b4"/><rect x="691.30" y="668.40" width="19.03" height="0.55" fill="#b4b4b4"/><rect x="691.30" y="670.20" width="20.37" height="0.55" fill="#b4b4b4"/><rect x="691.30" y="672.00" width="21.02" height="0.55" fill="#b4b4b4"/><rect x="691.30" y="673.80" width="5.31" height="0.55" fill="#b4b4b4"/><rect x="716.50" y="663.00" width="14.25" height="0.55" fill="#b4b4b4"/><rect x="716.50" y="664.80" width="14.79" height="0.55" fill="#b4b4b4"/><rect x="716.50" y="666.60" width="12.98" height="0.55" fill="#b4b4b4"/><rect x="716.50" y="668.40" width="14.58" height="0.55" fill="#b4b4b4"/><rect x="716.50" y="670.20" width="14.68" height="0.55" fill="#b4b4b4"/><rect x="716.50" y="672.00" width="14.91" height="0.55" fill="#b4b4b4"/><rect x="716.50" y="673.80" width="5.40" height="0.55" fill="#b4b4b4"/><rect x="735.80" y="663.00" width="5.92" height="0.55" fill="#b4b4b4"/><rect x="735.80" y="664.80" width="5.65" height="0.55" fill="#b4b4b4"/><rect x="735.80" y="666.60" width="6.40" height="0.55" fill="#b4b4b4"/><rect x="735.80" y="668.40" width="5.57" height="0.55" fill="#b4b4b4"/><rect x="735.80" y="670.20" width="1.74" height="0.55" fill="#b4b4b4"/><rect x="735.80" y="672.00" width="1.75" height="0.55" fill="#b4b4b4"/><rect x="735.80" y="673.80" width="2.60" height="0.55" fill="#b4b4b4"/><rect x="639.20" y="676.20" width="102.00" height="0.40" fill="#e2e2e2"/><rect x="636.40" y="677.10" width="2.60" height="13.70" fill="#f08da3"/><rect x="640.80" y="682.95" width="2.60" height="2.60" fill="#4aa040" opacity="0.85"/><rect x="650.20" y="678.10" width="19.56" height="0.55" fill="#b4b4b4"/><rect x="650.20" y="679.90" width="18.15" height="0.55" fill="#b4b4b4"/><rect x="650.20" y="681.70" width="18.48" height="0.55" fill="#b4b4b4"/><rect x="650.20" y="683.50" width="17.92" height="0.55" fill="#b4b4b4"/><rect x="650.20" y="685.30" width="8.40" height="0.55" fill="#b4b4b4"/><rect x="650.20" y="687.10" width="17.29" height="0.55" fill="#b4b4b4"/><rect x="650.20" y="688.90" width="18.79" height="0.55" fill="#b4b4b4"/><rect x="673.50" y="678.10" width="13.24" height="0.55" fill="#b4b4b4"/><rect x="673.50" y="679.90" width="5.98" height="0.55" fill="#b4b4b4"/><rect x="673.50" y="681.70" width="13.75" height="0.55" fill="#b4b4b4"/><rect x="673.50" y="683.50" width="14.66" height="0.55" fill="#b4b4b4"/><rect x="673.50" y="685.30" width="12.80" height="0.55" fill="#b4b4b4"/><rect x="673.50" y="687.10" width="11.51" height="0.55" fill="#b4b4b4"/><rect x="673.50" y="688.90" width="13.81" height="0.55" fill="#b4b4b4"/><rect x="691.30" y="678.10" width="18.87" height="0.55" fill="#b4b4b4"/><rect x="691.30" y="679.90" width="21.96" height="0.55" fill="#b4b4b4"/><rect x="691.30" y="681.70" width="21.72" height="0.55" fill="#b4b4b4"/><rect x="691.30" y="683.50" width="19.70" height="0.55" fill="#b4b4b4"/><rect x="691.30" y="685.30" width="7.18" height="0.55" fill="#b4b4b4"/><rect x="691.30" y="687.10" width="21.14" height="0.55" fill="#b4b4b4"/><rect x="691.30" y="688.90" width="21.27" height="0.55" fill="#b4b4b4"/><rect x="716.50" y="678.10" width="15.82" height="0.55" fill="#b4b4b4"/><rect x="716.50" y="679.90" width="15.30" height="0.55" fill="#b4b4b4"/><rect x="716.50" y="681.70" width="13.54" height="0.55" fill="#b4b4b4"/><rect x="716.50" y="683.50" width="15.35" height="0.55" fill="#b4b4b4"/><rect x="716.50" y="685.30" width="14.69" height="0.55" fill="#b4b4b4"/><rect x="716.50" y="687.10" width="6.58" height="0.55" fill="#b4b4b4"/><rect x="716.50" y="688.90" width="15.66" height="0.55" fill="#b4b4b4"/><rect x="735.80" y="678.10" width="1.64" height="0.55" fill="#b4b4b4"/><rect x="735.80" y="679.90" width="6.00" height="0.55" fill="#b4b4b4"/><rect x="735.80" y="681.70" width="5.65" height="0.55" fill="#b4b4b4"/><rect x="735.80" y="683.50" width="5.45" height="0.55" fill="#b4b4b4"/><rect x="735.80" y="685.30" width="3.64" height="0.55" fill="#b4b4b4"/><rect x="735.80" y="687.10" width="6.06" height="0.55" fill="#b4b4b4"/><rect x="735.80" y="688.90" width="5.90" height="0.55" fill="#b4b4b4"/><rect x="639.20" y="691.70" width="102.00" height="0.40" fill="#e2e2e2"/><rect x="636.40" y="692.60" width="2.60" height="20.20" fill="#f08da3"/><rect x="640.80" y="701.70" width="2.60" height="2.60" fill="#f0a020" opacity="0.85"/><rect x="650.20" y="693.60" width="7.91" height="0.55" fill="#b4b4b4"/><rect x="650.20" y="695.40" width="19.02" height="0.55" fill="#b4b4b4"/><rect x="650.20" y="697.20" width="4.33" height="0.55" fill="#b4b4b4"/><rect x="650.20" y="699.00" width="18.93" height="0.55" fill="#b4b4b4"/><rect x="650.20" y="700.80" width="17.68" height="0.55" fill="#b4b4b4"/><rect x="650.20" y="702.60" width="19.68" height="0.55" fill="#b4b4b4"/><rect x="650.20" y="704.40" width="4.52" height="0.55" fill="#b4b4b4"/><rect x="650.20" y="706.20" width="10.68" height="0.55" fill="#b4b4b4"/><rect x="650.20" y="708.00" width="17.51" height="0.55" fill="#b4b4b4"/><rect x="650.20" y="709.80" width="19.12" height="0.55" fill="#b4b4b4"/><rect x="650.20" y="711.60" width="17.53" height="0.55" fill="#b4b4b4"/><rect x="673.50" y="693.60" width="13.45" height="0.55" fill="#b4b4b4"/><rect x="673.50" y="695.40" width="13.27" height="0.55" fill="#b4b4b4"/><rect x="673.50" y="697.20" width="12.13" height="0.55" fill="#b4b4b4"/><rect x="673.50" y="699.00" width="14.42" height="0.55" fill="#b4b4b4"/><rect x="673.50" y="700.80" width="13.17" height="0.55" fill="#b4b4b4"/><rect x="673.50" y="702.60" width="8.00" height="0.55" fill="#b4b4b4"/><rect x="673.50" y="704.40" width="14.88" height="0.55" fill="#b4b4b4"/><rect x="673.50" y="706.20" width="7.72" height="0.55" fill="#b4b4b4"/><rect x="673.50" y="708.00" width="14.69" height="0.55" fill="#b4b4b4"/><rect x="673.50" y="709.80" width="3.62" height="0.55" fill="#b4b4b4"/><rect x="673.50" y="711.60" width="7.72" height="0.55" fill="#b4b4b4"/><rect x="691.30" y="693.60" width="21.81" height="0.55" fill="#b4b4b4"/><rect x="691.30" y="695.40" width="22.19" height="0.55" fill="#b4b4b4"/><rect x="691.30" y="697.20" width="19.97" height="0.55" fill="#b4b4b4"/><rect x="691.30" y="699.00" width="21.06" height="0.55" fill="#b4b4b4"/><rect x="691.30" y="700.80" width="18.98" height="0.55" fill="#b4b4b4"/><rect x="691.30" y="702.60" width="20.13" height="0.55" fill="#b4b4b4"/><rect x="691.30" y="704.40" width="19.97" height="0.55" fill="#b4b4b4"/><rect x="691.30" y="706.20" width="4.49" height="0.55" fill="#b4b4b4"/><rect x="691.30" y="708.00" width="10.68" height="0.55" fill="#b4b4b4"/><rect x="691.30" y="709.80" width="19.28" height="0.55" fill="#b4b4b4"/><rect x="691.30" y="711.60" width="19.56" height="0.55" fill="#b4b4b4"/><rect x="716.50" y="693.60" width="15.96" height="0.55" fill="#b4b4b4"/><rect x="716.50" y="695.40" width="15.00" height="0.55" fill="#b4b4b4"/><rect x="716.50" y="697.20" width="9.49" height="0.55" fill="#b4b4b4"/><rect x="716.50" y="699.00" width="16.20" height="0.55" fill="#b4b4b4"/><rect x="716.50" y="700.80" width="8.06" height="0.55" fill="#b4b4b4"/><rect x="716.50" y="702.60" width="14.01" height="0.55" fill="#b4b4b4"/><rect x="716.50" y="704.40" width="15.94" height="0.55" fill="#b4b4b4"/><rect x="716.50" y="706.20" width="14.04" height="0.55" fill="#b4b4b4"/><rect x="716.50" y="708.00" width="4.10" height="0.55" fill="#b4b4b4"/><rect x="716.50" y="709.80" width="14.57" height="0.55" fill="#b4b4b4"/><rect x="716.50" y="711.60" width="16.15" height="0.55" fill="#b4b4b4"/><rect x="735.80" y="693.60" width="2.67" height="0.55" fill="#b4b4b4"/><rect x="735.80" y="695.40" width="6.03" height="0.55" fill="#b4b4b4"/><rect x="735.80" y="697.20" width="4.95" height="0.55" fill="#b4b4b4"/><rect x="735.80" y="699.00" width="2.69" height="0.55" fill="#b4b4b4"/><rect x="735.80" y="700.80" width="5.15" height="0.55" fill="#b4b4b4"/><rect x="735.80" y="702.60" width="6.05" height="0.55" fill="#b4b4b4"/><rect x="735.80" y="704.40" width="5.46" height="0.55" fill="#b4b4b4"/><rect x="735.80" y="706.20" width="3.71" height="0.55" fill="#b4b4b4"/><rect x="735.80" y="708.00" width="6.36" height="0.55" fill="#b4b4b4"/><rect x="735.80" y="709.80" width="5.68" height="0.55" fill="#b4b4b4"/><rect x="735.80" y="711.60" width="5.91" height="0.55" fill="#b4b4b4"/><rect x="639.20" y="713.70" width="102.00" height="0.40" fill="#e2e2e2"/><rect x="671.80" y="661.50" width="0.40" height="55.00" fill="#e6e6e6"/><rect x="689.60" y="661.50" width="0.40" height="55.00" fill="#e6e6e6"/><rect x="714.80" y="661.50" width="0.40" height="55.00" fill="#e6e6e6"/><rect x="734.10" y="661.50" width="0.40" height="55.00" fill="#e6e6e6"/><rect x="636.20" y="717.50" width="12.00" height="1.60" fill="#444"/><rect x="650.20" y="717.50" width="79.85" height="0.60" fill="#bbb"/><rect x="650.20" y="719.50" width="87.43" height="0.60" fill="#bbb"/><rect x="650.20" y="721.50" width="87.90" height="0.60" fill="#bbb"/></g><ellipse cx="317.4" cy="40.9" rx="26" ry="16.25" fill="#40405a"/><polygon points="293.25,61.300000000000004 312.6,55.2 297.1,48.2" fill="#40405a"/><ellipse cx="316.7" cy="40" rx="26" ry="16.25" fill="#f7941d"/><polygon points="292.75,60.6 311.9,54.3 296.4,47.3" fill="#f7941d"/><text x="317.2" y="45.0" font-size="14" font-weight="bold" fill="#fff" stroke="#fff" stroke-width="0.35" text-anchor="middle" textLength="27.5" lengthAdjust="spacingAndGlyphs">NEW</text><ellipse cx="529.95" cy="355.15" rx="25.75" ry="15.75" fill="#40405a"/><polygon points="505.0,375.2 524.8,369.0 509.7,362.1" fill="#40405a"/><ellipse cx="529.25" cy="354.25" rx="25.75" ry="15.75" fill="#f7941d"/><polygon points="504.5,374.5 524.1,368.1 509.0,361.2" fill="#f7941d"/><text x="529.75" y="359.3" font-size="14" font-weight="bold" fill="#fff" stroke="#fff" stroke-width="0.35" text-anchor="middle" textLength="27" lengthAdjust="spacingAndGlyphs">NEW</text><ellipse cx="371.95" cy="563.9" rx="22.75" ry="14" fill="#40405a"/><polygon points="350.5,582.2 368.0,576.3 354.3,570.3" fill="#40405a"/><ellipse cx="371.25" cy="563" rx="22.75" ry="14" fill="#f7941d"/><polygon points="350,581.5 367.3,575.4 353.6,569.4" fill="#f7941d"/><text x="371.75" y="567.5" font-size="12.5" font-weight="bold" fill="#fff" stroke="#fff" stroke-width="0.35" text-anchor="middle" textLength="24.5" lengthAdjust="spacingAndGlyphs">NEW</text><ellipse cx="759.2" cy="575.65" rx="22.5" ry="13.75" fill="#40405a"/><polygon points="738.0,593.7 755.3,587.8 741.8,582.0" fill="#40405a"/><ellipse cx="758.5" cy="574.75" rx="22.5" ry="13.75" fill="#f7941d"/><polygon points="737.5,593 754.6,586.9 741.1,581.1" fill="#f7941d"/><text x="759.0" y="579.2" font-size="12.5" font-weight="bold" fill="#fff" stroke="#fff" stroke-width="0.35" text-anchor="middle" textLength="24.5" lengthAdjust="spacingAndGlyphs">NEW</text><ellipse cx="105.7" cy="815.9" rx="23" ry="14" fill="#40405a"/><polygon points="126.5,833.7 123.5,822.3 109.8,828.3" fill="#40405a"/><ellipse cx="105" cy="815" rx="23" ry="14" fill="#f7941d"/><polygon points="126,833 122.8,821.4 109.1,827.4" fill="#f7941d"/><text x="105.5" y="819.5" font-size="12.5" font-weight="bold" fill="#fff" stroke="#fff" stroke-width="0.35" text-anchor="middle" textLength="24.5" lengthAdjust="spacingAndGlyphs">NEW</text><ellipse cx="706.2" cy="818.15" rx="22.5" ry="13.75" fill="#40405a"/><polygon points="685.0,836.2 702.3,830.3 688.8,824.5" fill="#40405a"/><ellipse cx="705.5" cy="817.25" rx="22.5" ry="13.75" fill="#f7941d"/><polygon points="684.5,835.5 701.6,829.4 688.1,823.6" fill="#f7941d"/><text x="706.0" y="821.8" font-size="12.5" font-weight="bold" fill="#fff" stroke="#fff" stroke-width="0.35" text-anchor="middle" textLength="24.5" lengthAdjust="spacingAndGlyphs">NEW</text><ellipse cx="55.7" cy="927.4" rx="19" ry="10.5" fill="#40405a"/><polygon points="37.9,942.7 53.3,936.8 41.5,932.7" fill="#40405a"/><ellipse cx="55" cy="926.5" rx="19" ry="10.5" fill="#f7941d"/><polygon points="37.4,942 52.6,935.9 40.8,931.8" fill="#f7941d"/><text x="55.5" y="930.1" font-size="10" font-weight="bold" fill="#fff" stroke="#fff" stroke-width="0.35" text-anchor="middle" textLength="20.5" lengthAdjust="spacingAndGlyphs">NEW</text></svg>
</body></html>
